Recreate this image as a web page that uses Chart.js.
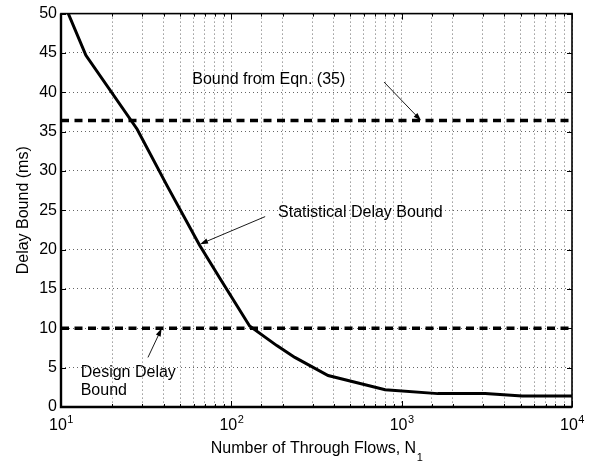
<!DOCTYPE html>
<html>
<head>
<meta charset="utf-8">
<script src="https://cdn.jsdelivr.net/npm/chart.js@4"></script>
<style>
  html, body { margin: 0; padding: 0; background: #fff; }
  canvas { display: block; }
</style>
</head>
<body>
<canvas id="delayChart" width="595" height="464"></canvas>
<script>
// Delay bound vs number of through flows (log x axis)

const flows = [10, 14, 28, 42, 65, 86, 128, 185, 236, 370, 800, 1630, 3090, 5100, 10000];
const statDelay = [52.2, 44.7, 35.3, 28.1, 20.6, 16.3, 10.3, 7.8, 6.3, 4.0, 2.2, 1.7, 1.7, 1.4, 1.4];
const eqnBound = 36.4;
const designBound = 10;
const xRange = [10, 10000];
const yTicks = [0, 5, 10, 15, 20, 25, 30, 35, 40, 45, 50];
const xMajorTicks = [10, 100, 1000, 10000];

// text labels and arrows, in data coordinates
const notes = [
    { lines: ['Bound from Eqn. (35)'], x: 59, y: 41.6 },
    { lines: ['Statistical Delay Bound'], x: 188, y: 24.7 },
    { lines: ['Design Delay', 'Bound'], x: 13.05, y: 4.42 }
];
const arrows = [
    { from: [788, 41.3], to: [1300, 36.4] },
    { from: [158, 24.2], to: [65.5, 20.7] },
    { from: [32.4, 6.3], to: [39, 10] }
];

const FONT = '"Liberation Sans", Arial, Helvetica, sans-serif';
const FS = 16;

function drawArrow(ctx, x1, y1, x2, y2) {
    const ang = Math.atan2(y2 - y1, x2 - x1);
    const len = 8, half = 2.6;
    ctx.beginPath();
    ctx.moveTo(x1, y1);
    ctx.lineTo(x2 - Math.cos(ang) * len * 0.8, y2 - Math.sin(ang) * len * 0.8);
    ctx.lineWidth = 0.9;
    ctx.strokeStyle = '#000';
    ctx.stroke();
    ctx.beginPath();
    ctx.moveTo(x2, y2);
    ctx.lineTo(x2 - Math.cos(ang) * len + Math.sin(ang) * half, y2 - Math.sin(ang) * len - Math.cos(ang) * half);
    ctx.lineTo(x2 - Math.cos(ang) * len - Math.sin(ang) * half, y2 - Math.sin(ang) * len + Math.cos(ang) * half);
    ctx.closePath();
    ctx.fillStyle = '#000';
    ctx.fill();
}

const matlabAxes = {
    id: 'matlabAxes',
    afterDraw(chart) {
        const { ctx, chartArea: a, scales: { x, y } } = chart;
        ctx.save();

        // inside ticks
        ctx.strokeStyle = '#000';
        ctx.lineWidth = 1;
        ctx.beginPath();
        x.ticks.forEach(t => {
            const px = Math.round(x.getPixelForValue(t.value)) + 0.5;
            const major = xMajorTicks.includes(t.value);
            const len = major ? 6 : 3;
            ctx.moveTo(px, a.bottom); ctx.lineTo(px, a.bottom - len);
            ctx.moveTo(px, a.top); ctx.lineTo(px, a.top + len);
        });
        yTicks.forEach(v => {
            const py = Math.round(y.getPixelForValue(v)) + 0.5;
            ctx.moveTo(a.left, py); ctx.lineTo(a.left + 5, py);
            ctx.moveTo(a.right, py); ctx.lineTo(a.right - 5, py);
        });
        ctx.stroke();

        // frame
        ctx.lineWidth = 1.6;
        ctx.strokeRect(a.left, a.top, a.right - a.left, a.bottom - a.top);
        ctx.lineWidth = 2.4;
        ctx.beginPath();
        ctx.moveTo(a.left, a.top); ctx.lineTo(a.left, a.bottom); ctx.lineTo(a.right, a.bottom);
        ctx.stroke();

        // x tick labels 10^n
        ctx.fillStyle = '#000';
        ctx.textBaseline = 'alphabetic';
        xMajorTicks.forEach(v => {
            const px = x.getPixelForValue(v);
            const exp = String(Math.round(Math.log10(v)));
            ctx.font = FS + 'px ' + FONT;
            const wb = ctx.measureText('10').width;
            ctx.font = '11px ' + FONT;
            const we = ctx.measureText(exp).width;
            const left = px - (wb + we) / 2;
            ctx.font = FS + 'px ' + FONT;
            ctx.textAlign = 'left';
            ctx.fillText('10', left, 430);
            ctx.font = '11px ' + FONT;
            ctx.fillText(exp, left + wb + 0.5, 423);
        });

        // x title with subscript
        const xt = 'Number of Through Flows, N';
        ctx.font = FS + 'px ' + FONT;
        const wt = ctx.measureText(xt).width;
        ctx.font = '11px ' + FONT;
        const ws = ctx.measureText('1').width;
        const cx = (a.left + a.right) / 2;
        const tl = cx - (wt + ws) / 2;
        ctx.font = FS + 'px ' + FONT;
        ctx.fillText(xt, tl, 453);
        ctx.font = '11px ' + FONT;
        ctx.fillText('1', tl + wt + 0.5, 461);

        // y title
        ctx.save();
        ctx.translate(24, (a.top + a.bottom) / 2);
        ctx.rotate(-Math.PI / 2);
        ctx.font = FS + 'px ' + FONT;
        ctx.textAlign = 'center';
        ctx.textBaseline = 'middle';
        ctx.fillText('Delay Bound (ms)', 0, 0);
        ctx.restore();

        // notes
        ctx.font = FS + 'px ' + FONT;
        ctx.textAlign = 'left';
        ctx.textBaseline = 'middle';
        notes.forEach(n => {
            const px = x.getPixelForValue(n.x);
            const py = y.getPixelForValue(n.y);
            n.lines.forEach((line, i) => ctx.fillText(line, px, py + i * 18.5));
        });
        arrows.forEach(ar => {
            drawArrow(ctx,
                x.getPixelForValue(ar.from[0]), y.getPixelForValue(ar.from[1]),
                x.getPixelForValue(ar.to[0]), y.getPixelForValue(ar.to[1]));
        });

        ctx.restore();
    }
};

const gridStyle = {
    color: 'rgba(0,0,0,0.6)',
    lineWidth: 1,
    drawTicks: false
};

new Chart(document.getElementById('delayChart'), {
    type: 'line',
    data: {
        datasets: [
            {
                label: 'Statistical Delay Bound',
                data: flows.map((n, i) => ({ x: n, y: statDelay[i] })),
                borderColor: '#000',
                borderWidth: 3,
                pointRadius: 0,
                tension: 0
            },
            {
                label: 'Bound from Eqn. (35)',
                data: xRange.map(n => ({ x: n, y: eqnBound })),
                borderColor: '#000',
                borderWidth: 3.5,
                borderDash: [8, 5.5],
                pointRadius: 0
            },
            {
                label: 'Design Delay Bound',
                data: xRange.map(n => ({ x: n, y: designBound })),
                borderColor: '#000',
                borderWidth: 3.5,
                borderDash: [8, 5.5],
                pointRadius: 0
            }
        ]
    },
    options: {
        responsive: false,
        animation: false,
        devicePixelRatio: 1,
        layout: { padding: { top: 8, right: 23, left: 0, bottom: 0 } },
        plugins: {
            legend: { display: false },
            tooltip: { enabled: false }
        },
        scales: {
            x: {
                type: 'logarithmic',
                min: xRange[0],
                max: xRange[1],
                border: { display: false, dash: [1, 3] },
                grid: gridStyle,
                ticks: { display: false },
                afterFit: s => { s.height = 57; }
            },
            y: {
                type: 'linear',
                min: 0,
                max: 50,
                border: { display: false, dash: [1, 3] },
                grid: gridStyle,
                ticks: {
                    stepSize: 5,
                    padding: 4,
                    color: '#000',
                    font: { family: FONT, size: FS }
                },
                afterFit: s => { s.width = 61; }
            }
        }
    },
    plugins: [matlabAxes]
});
</script>
</body>
</html>
